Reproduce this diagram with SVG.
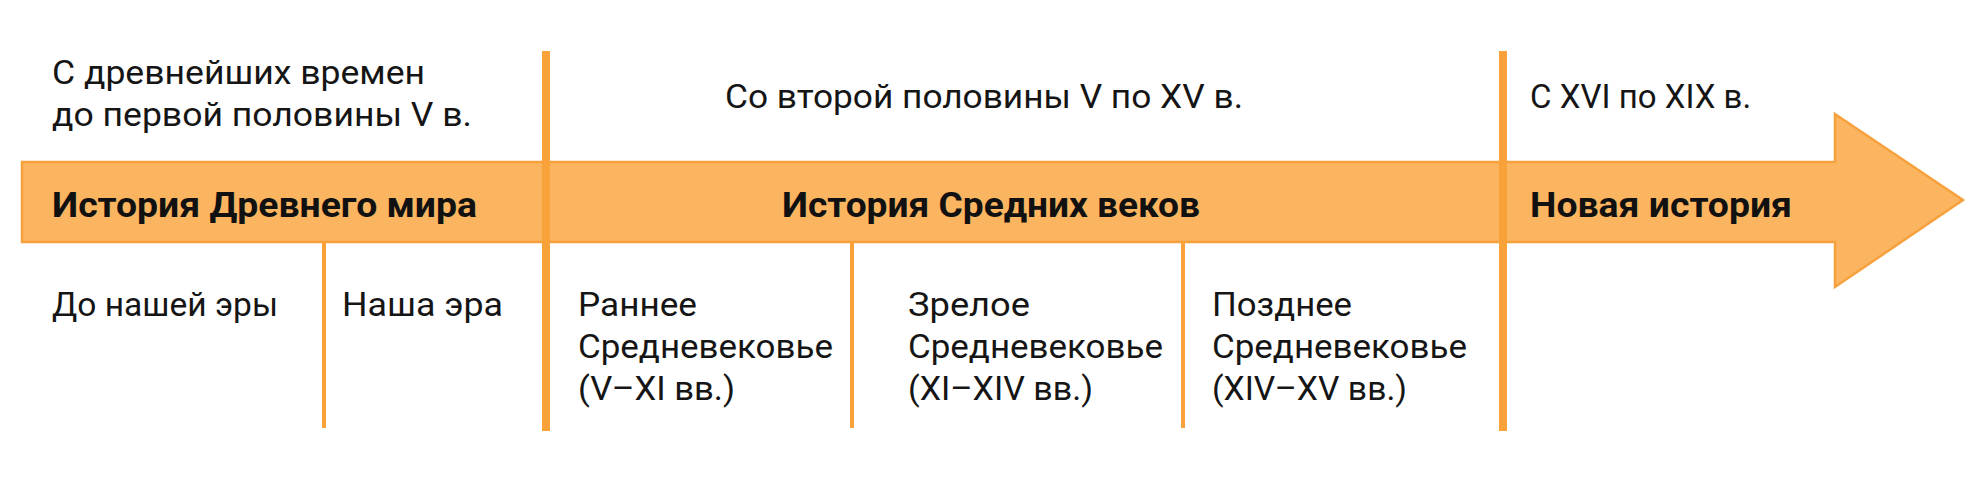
<svg xmlns="http://www.w3.org/2000/svg" width="1988" height="479" viewBox="0 0 1988 479">
<style>
.t{font-family:Roboto,"Liberation Sans",sans-serif;font-size:34px;fill:#151515}
.b{font-family:Roboto,"Liberation Sans",sans-serif;font-size:35px;font-weight:bold;fill:#111}
.thick{stroke:#F9A23A;stroke-width:8;fill:none}
.thin{stroke:#F9A23A;stroke-width:4;fill:none}
</style>
<rect width="1988" height="479" fill="#fff"/>
<g id="arrow">
<path d="M22,162 H1835 V114 L1963,200 L1835,287 V242 H22 Z" fill="#FBB45F" stroke="#F7A13D" stroke-width="2.5" stroke-linejoin="miter"/>
</g>
<g id="connectors">
<line class="thick" x1="546" y1="51" x2="546" y2="431"/>
<line class="thick" x1="1503" y1="51" x2="1503" y2="431"/>
<line class="thin" x1="324" y1="242" x2="324" y2="428"/>
<line class="thin" x1="852" y1="242" x2="852" y2="428"/>
<line class="thin" x1="1183" y1="242" x2="1183" y2="428"/>
</g>
<g id="ancient">
<text class="t" x="52" y="84" textLength="373" lengthAdjust="spacingAndGlyphs">С древнейших времен</text>
<text class="t" x="52" y="126" textLength="420" lengthAdjust="spacingAndGlyphs">до первой половины V в.</text>
<text class="b" x="52" y="217" textLength="425" lengthAdjust="spacingAndGlyphs">История Древнего мира</text>
</g>
<g id="medieval">
<text class="t" x="725" y="108" textLength="518" lengthAdjust="spacingAndGlyphs">Со второй половины V по XV в.</text>
<text class="b" x="782" y="217" textLength="418" lengthAdjust="spacingAndGlyphs">История Средних веков</text>
</g>
<g id="modern">
<text class="t" x="1530" y="108" style="font-size:33px">С XVI по XIX в.</text>
<text class="b" x="1530" y="217" textLength="262" lengthAdjust="spacingAndGlyphs">Новая история</text>
</g>
<g id="bc"><text class="t" x="52" y="316" textLength="226" lengthAdjust="spacingAndGlyphs">До нашей эры</text></g>
<g id="ad"><text class="t" x="342" y="316" textLength="161" lengthAdjust="spacingAndGlyphs">Наша эра</text></g>
<g id="early">
<text class="t" x="578" y="316" textLength="119" lengthAdjust="spacingAndGlyphs">Раннее</text>
<text class="t" x="578" y="358" textLength="255" lengthAdjust="spacingAndGlyphs">Средневековье</text>
<text class="t" x="578" y="400" textLength="157" lengthAdjust="spacingAndGlyphs">(V–XI вв.)</text>
</g>
<g id="high">
<text class="t" x="908" y="316" textLength="122" lengthAdjust="spacingAndGlyphs">Зрелое</text>
<text class="t" x="908" y="358" textLength="255" lengthAdjust="spacingAndGlyphs">Средневековье</text>
<text class="t" x="908" y="400" textLength="185" lengthAdjust="spacingAndGlyphs">(XI–XIV вв.)</text>
</g>
<g id="late">
<text class="t" x="1212" y="316" textLength="140" lengthAdjust="spacingAndGlyphs">Позднее</text>
<text class="t" x="1212" y="358" textLength="255" lengthAdjust="spacingAndGlyphs">Средневековье</text>
<text class="t" x="1212" y="400" textLength="195" lengthAdjust="spacingAndGlyphs">(XIV–XV вв.)</text>
</g>
</svg>
